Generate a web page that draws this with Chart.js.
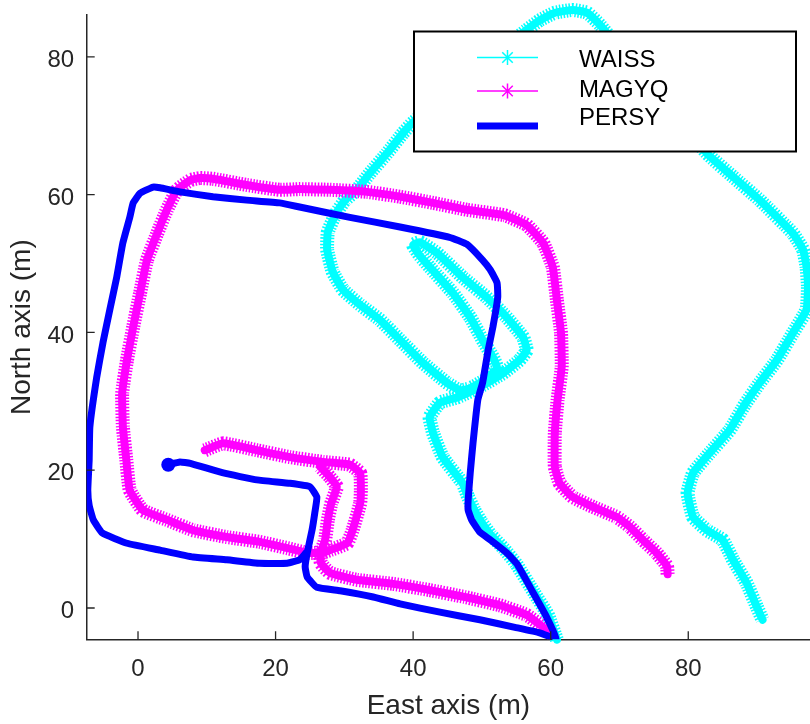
<!DOCTYPE html>
<html>
<head>
<meta charset="utf-8">
<title>WAISS / MAGYQ / PERSY</title>
<script src="https://cdn.jsdelivr.net/npm/chart.js@4.4.1/dist/chart.umd.min.js"></script>
<style>
  html, body { margin: 0; padding: 0; background: #fff; overflow: hidden; }
  canvas { display: block; }
</style>
</head>
<body>
<canvas id="trackChart" width="810" height="724"></canvas>
<script>
// axis ticks
const xTicks = [0, 20, 40, 60, 80];
const yTicks = [0, 20, 40, 60, 80];

// tracks as [east, north] in metres
const waissPath = [
  [60.9,-4.6],[59.6,-1.0],[57.6,2.2],[55.0,6.4],[53.2,8.6],[51.3,10.6],[49.9,12.5],[48.9,14.2],
  [48.0,16.1],[47.2,18.1],[44.3,21.9],[42.9,25.4],[42.4,27.7],[43.9,29.8],[46.5,30.6],[49.7,32.1],
  [53.1,34.1],[55.5,36.0],[56.5,37.4],[56.0,39.3],[53.6,42.2],[50.7,45.1],[47.2,48.0],[43.5,51.5],
  [41.0,53.1],[40.0,52.7],[41.0,51.1],[42.4,49.5],[45.8,45.7],[48.3,42.2],[50.1,38.9],[51.6,36.4],
  [52.2,34.8],[50.4,33.1],[48.3,31.9],[46.8,31.6],[44.9,32.7],[41.4,35.6],[38.1,38.9],[35.2,41.8],
  [32.3,44.0],[29.8,46.2],[28.3,48.8],[27.5,52.0],[27.6,54.6],[28.8,57.3],[30.1,59.2],[31.8,60.7],
  [33.7,63.1],[36.2,66.0],[38.5,68.9],[40.0,70.5],[56.5,83.9],[58.4,85.3],[60.6,86.4],[63.2,86.8],
  [65.3,86.4],[67.2,84.6],[82.7,66.0],[86.5,62.6],[90.4,59.2],[95.2,54.4],[96.7,52.0],[97.2,49.5],
  [97.4,46.6],[97.2,43.3],[95.2,39.9],[92.9,36.0],[90.4,32.7],[88.2,29.5],[86.0,25.8],[83.1,22.5],
  [80.7,19.6],[79.9,16.7],[80.7,13.2],[82.7,11.3],[85.0,9.9],[86.5,7.0],[88.5,3.6],[90.0,0.1],[90.8,-1.7]
];

// null = break in the track
const magyqPath = [
  [9.7,22.9],[12.4,23.9],[17.3,22.9],[22.1,21.9],[26.9,21.2],[30.8,20.8],[32.3,19.6],[32.4,17.1],
  [32.3,15.2],[31.2,11.3],[30.4,9.4],[27.9,8.4],[26.5,7.8],[26.6,6.5],[27.9,5.1],[31.8,4.1],
  [37.1,3.5],[42.4,2.6],[47.5,1.6],[52.6,0.4],[56.5,-1.0],[58.9,-2.8],[60.3,-3.9],
  null,
  [77.0,4.9],[76.9,6.1],[75.4,8.0],[73.4,9.9],[71.5,11.8],[69.6,13.2],[66.1,14.7],[63.2,16.1],
  [61.3,18.1],[60.6,20.5],[60.6,25.4],[61.0,30.2],[61.6,35.0],[61.5,39.9],[60.9,44.7],[60.3,49.5],
  [58.9,53.0],[56.5,55.6],[53.3,57.0],[47.8,57.8],[42.9,58.8],[38.1,59.7],[33.3,60.4],[27.9,60.7],
  [23.5,60.8],[20.6,60.7],[15.8,61.4],[10.9,62.3],[9.0,62.4],[7.6,62.1],[5.7,60.7],[4.2,57.8],
  [2.8,54.4],[1.3,50.5],[0.3,45.7],[-0.7,40.8],[-1.6,36.0],[-2.3,31.2],[-2.2,26.3],[-1.7,21.5],
  [-1.2,17.1],[0.7,14.2],[4.2,12.8],[8.0,11.3],[12.9,10.3],[17.7,9.6],[21.7,8.7],[24.6,8.0],
  [26.5,8.1],[27.2,9.9],[27.6,12.8],[28.1,15.2],[28.9,17.6],[27.9,19.0],[26.5,20.5]
];

const persyPath = [
  [4.4,20.8],[6.1,21.2],[7.6,21.0],[12.4,19.6],[17.3,18.6],[22.1,18.1],[25.0,17.6],[26.0,16.1],
  [25.7,13.8],[25.3,11.3],[24.6,8.0],[24.3,6.0],[24.6,4.5],[26.0,3.0],[29.4,2.5],[34.2,1.6],
  [38.1,0.6],[43.9,-0.6],[49.7,-1.7],[54.8,-2.8],[58.4,-3.6],[60.8,-4.5],[59.4,-1.3],[57.4,2.3],
  [55.1,6.4],[53.6,8.0],[51.2,9.9],[49.7,11.0],[48.5,12.8],[48.0,14.2],[48.0,15.7],[48.3,19.6],
  [48.7,23.9],[49.4,30.2],[50.1,32.7],[50.9,37.4],[51.6,40.8],[52.3,45.1],[52.2,47.2],[51.2,49.1],
  [50.1,50.5],[47.8,52.8],[45.3,53.8],[38.1,55.3],[30.8,56.7],[23.5,58.2],[20.6,58.8],[15.8,59.2],
  [10.9,59.7],[6.1,60.4],[3.2,61.0],[2.2,61.1],[0.3,60.2],[-0.7,58.8],[-1.2,56.7],[-2.2,53.0],
  [-3.1,48.0],[-4.1,43.3],[-5.1,38.5],[-6.0,33.5],[-7.0,26.3],[-7.1,21.5],[-7.3,17.1],[-7.1,14.9],
  [-6.5,12.8],[-5.2,10.9],[-1.6,9.4],[3.2,8.4],[8.0,7.4],[12.9,7.0],[17.7,6.5],[21.7,6.5],
  [23.5,7.0],[24.4,8.0]
];

const seriesNames = ['WAISS', 'MAGYQ', 'PERSY'];
const seriesColors = ['#00ffff', '#ff00ff', '#0000ff'];

const axisColor = '#262626';
const fontFamily = "'Liberation Sans', Arial, Helvetica, sans-serif";
Chart.defaults.font.family = fontFamily;

function track(path) {
    return path.map(p => p ? { x: p[0], y: p[1] } : { x: null, y: null });
}

// star-marker tracks: solid core + dashed wide stroke for the spiky edge
const bandCore = { borderWidth: 8, borderJoinStyle: 'round', borderCapStyle: 'round' };
const bandTeeth = { borderWidth: 14, borderDash: [1.5, 1.6], borderCapStyle: 'butt' };

// inward tick marks, like the original plot
const innerTicks = {
    id: 'innerTicks',
    afterDatasetsDraw(chart) {
        const { ctx, chartArea: a, scales: { x, y } } = chart;
        ctx.save();
        ctx.strokeStyle = axisColor;
        ctx.lineWidth = 1.3;
        ctx.beginPath();
        xTicks.forEach(v => {
            const px = x.getPixelForValue(v);
            ctx.moveTo(px, a.bottom);
            ctx.lineTo(px, a.bottom - 8);
        });
        yTicks.forEach(v => {
            const py = y.getPixelForValue(v);
            ctx.moveTo(a.left, py);
            ctx.lineTo(a.left + 8, py);
        });
        ctx.stroke();
        ctx.restore();
    }
};

// boxed legend in the upper right
const boxLegend = {
    id: 'boxLegend',
    afterDraw(chart) {
        const ctx = chart.ctx;
        const left = 414, top = 31.5, width = 382, height = 120;
        ctx.save();
        ctx.fillStyle = '#ffffff';
        ctx.fillRect(left, top, width, height);
        ctx.strokeStyle = '#000000';
        ctx.lineWidth = 2;
        ctx.strokeRect(left, top, width, height);

        const lineY = [57.5, 91, 126];
        const textY = [66.5, 96.5, 125];
        seriesNames.forEach((name, i) => {
            ctx.strokeStyle = seriesColors[i];
            ctx.lineCap = 'butt';
            ctx.beginPath();
            ctx.moveTo(477, lineY[i]);
            ctx.lineTo(538, lineY[i]);
            ctx.lineWidth = i === 2 ? 7 : 1.5;
            ctx.stroke();
            if (i < 2) {
                const cx = 507.5, cy = lineY[i], r = 7.5;
                ctx.lineWidth = 1.5;
                ctx.beginPath();
                ctx.moveTo(cx, cy - r); ctx.lineTo(cx, cy + r);
                ctx.moveTo(cx - r * 0.7, cy - r * 0.7); ctx.lineTo(cx + r * 0.7, cy + r * 0.7);
                ctx.moveTo(cx - r * 0.7, cy + r * 0.7); ctx.lineTo(cx + r * 0.7, cy - r * 0.7);
                ctx.stroke();
            }
            ctx.fillStyle = '#000000';
            ctx.font = '24px ' + fontFamily;
            ctx.textBaseline = 'alphabetic';
            ctx.textAlign = 'left';
            ctx.fillText(name, 579, textY[i]);
        });
        ctx.restore();
    }
};

new Chart(document.getElementById('trackChart'), {
    type: 'line',
    data: {
        datasets: [
            {
                label: 'PERSY',
                data: track(persyPath),
                borderColor: seriesColors[2],
                backgroundColor: seriesColors[2],
                borderWidth: 7,
                borderJoinStyle: 'round',
                borderCapStyle: 'round',
                pointRadius: c => c.dataIndex === 0 ? 7 : 0,
                pointBorderWidth: 0,
                order: 1
            },
            { label: 'MAGYQ', data: track(magyqPath), borderColor: seriesColors[1], ...bandCore, order: 2 },
            { label: 'MAGYQ', data: track(magyqPath), borderColor: seriesColors[1], ...bandTeeth, order: 3 },
            { label: 'WAISS', data: track(waissPath), borderColor: seriesColors[0], ...bandCore, clip: false, order: 4 },
            { label: 'WAISS', data: track(waissPath), borderColor: seriesColors[0], ...bandTeeth, clip: false, order: 5 }
        ]
    },
    options: {
        responsive: false,
        animation: false,
        devicePixelRatio: 1,
        events: [],
        spanGaps: false,
        layout: { autoPadding: false, padding: { top: 15, right: 0, bottom: 0, left: 0 } },
        elements: {
            point: { radius: 0 },
            line: { tension: 0.12, fill: false }
        },
        plugins: {
            legend: { display: false },
            tooltip: { enabled: false }
        },
        scales: {
            x: {
                type: 'linear',
                min: -7.46,
                max: 97.7,
                afterBuildTicks: axis => { axis.ticks = xTicks.map(v => ({ value: v })); },
                afterFit: axis => {
                    axis.height = 84.7;
                    axis.paddingLeft = 0;
                    axis.paddingRight = 0;
                },
                grid: { display: false, drawTicks: false },
                border: { display: true, color: axisColor, width: 1.5 },
                ticks: { color: axisColor, font: { size: 24 }, padding: 16, maxRotation: 0, autoSkip: false },
                title: {
                    display: true,
                    text: 'East axis (m)',
                    color: axisColor,
                    font: { size: 28 },
                    padding: { top: 0, bottom: 0.9 }
                }
            },
            y: {
                type: 'linear',
                min: -4.54,
                max: 86.07,
                afterBuildTicks: axis => { axis.ticks = yTicks.map(v => ({ value: v })); },
                afterFit: axis => {
                    axis.width = 86.7;
                    axis.paddingTop = 0;
                    axis.paddingBottom = 0;
                },
                grid: { display: false, drawTicks: false },
                border: { display: true, color: axisColor, width: 1.5 },
                ticks: { color: axisColor, font: { size: 24 }, padding: 12.5, labelOffset: 3.5, autoSkip: false },
                title: {
                    display: true,
                    text: 'North axis (m)',
                    color: axisColor,
                    font: { size: 28 },
                    padding: { top: 5.5, bottom: 0 }
                }
            }
        }
    },
    plugins: [innerTicks, boxLegend]
});
</script>
</body>
</html>
